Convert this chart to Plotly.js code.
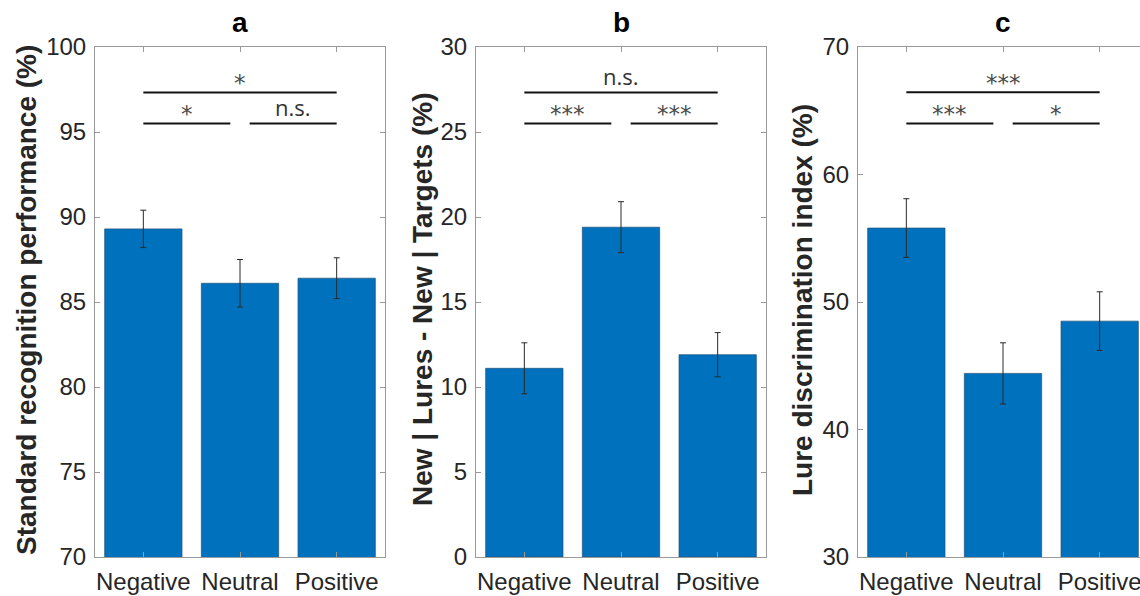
<!DOCTYPE html>
<html>
<head>
<meta charset="utf-8">
<script src="https://cdn.plot.ly/plotly-3.0.1.min.js"></script>
<style>
html,body{margin:0;padding:0;overflow:hidden;background:#fff;width:1140px;height:596px;}
#chart{width:1150px;height:596px;}
</style>
</head>
<body>
<div id="chart"></div>
<script>
// ---- data ----
var categories = ['Negative', 'Neutral', 'Positive'];
var catIndex = [0, 1, 2];

var aMean = [89.3, 86.1, 86.4];
var aErr  = [1.1, 1.4, 1.2];
var bMean = [11.1, 19.4, 11.9];
var bErr  = [1.5, 1.5, 1.3];
var cMean = [55.8, 44.4, 48.5];
var cErr  = [2.3, 2.4, 2.3];

var panelTitles = ['a', 'b', 'c'];
var yTitles = ['Standard recognition performance (%)', 'New | Lures - New | Targets (%)', 'Lure discrimination index (%)'];
var yRanges = [[70, 100], [0, 30], [30, 70]];
var yDticks = [5, 5, 10];

// significance brackets: upper, lower-left, lower-right
var sigX0 = [0, 0, 1.1];
var sigX1 = [2, 0.9, 2];
var aSigY = [97.33, 95.5, 95.5];
var bSigY = [27.33, 25.5, 25.5];
var cSigY = [66.45, 64.0, 64.0];
var aSig = ['*', '*', 'n.s.'];
var bSig = ['n.s.', '***', '***'];
var cSig = ['***', '***', '*'];

// ---- layout geometry (px in a 1150 x 596 canvas) ----
var W = 1150, H = 596;
var panelLeft = [95, 476, 858];
var panelWidth = 290;
var plotTop = 47, plotBottom = 557;
var yTitleX = [26, 422, 802];

var means = [aMean, bMean, cMean];
var errs = [aErr, bErr, cErr];
var sigYs = [aSigY, bSigY, cSigY];
var sigLabels = [aSig, bSig, cSig];

var barColor = '#0072BD';
var spine = '#9a9a9a';
var textColor = '#262626';
var font = 'Liberation Sans, Arial, sans-serif';

var traces = [];
var annotations = [];
var layout = {
  width: W, height: H,
  margin: {l: 0, r: 0, t: 0, b: 0},
  paper_bgcolor: '#fff', plot_bgcolor: '#fff',
  showlegend: false,
  annotations: annotations
};

for (var p = 0; p < 3; p++) {
  var sx = p === 0 ? '' : String(p + 1);
  var xa = 'x' + sx, ya = 'y' + sx;
  traces.push({
    type: 'bar', x: catIndex, y: means[p], xaxis: xa, yaxis: ya,
    width: 0.8,
    marker: {color: barColor, line: {color: '#23517a', width: 0.7}},
    error_y: {type: 'data', array: errs[p], visible: true, color: '#2a2a2a', thickness: 1, width: 3},
    hoverinfo: 'y'
  });
  for (var k = 0; k < 3; k++) {
    traces.push({
      type: 'scatter', mode: 'lines', xaxis: xa, yaxis: ya,
      x: [sigX0[k], sigX1[k]], y: [sigYs[p][k], sigYs[p][k]],
      line: {color: '#111', width: 2}, hoverinfo: 'skip'
    });
    var lab = sigLabels[p][k];
    var isStar = lab.indexOf('*') === 0;
    annotations.push({
      xref: xa, yref: ya,
      x: (sigX0[k] + sigX1[k]) / 2, y: sigYs[p][k],
      text: lab, showarrow: false,
      yanchor: 'bottom', xanchor: 'center',
      yshift: isStar ? -6 : -1,
      font: isStar ? {family: 'DejaVu Sans, sans-serif', size: 23, color: '#4a4a4a'}
                   : {family: 'Open Sans, sans-serif', size: 22, color: '#333'}
    });
  }
  var x0 = panelLeft[p] / W, x1 = (panelLeft[p] + panelWidth) / W;
  layout['xaxis' + sx] = {
    domain: [x0, x1], anchor: ya,
    range: [-0.5, 2.5], tickvals: catIndex, ticktext: categories,
    showline: true, linecolor: spine, linewidth: 1, mirror: 'ticks',
    ticks: 'inside', ticklen: 5, tickcolor: spine, tickwidth: 1,
    showgrid: false, zeroline: false, fixedrange: true,
    tickfont: {family: font, size: 24, color: textColor},
    ticklabelstandoff: 3
  };
  layout['yaxis' + sx] = {
    domain: [1 - plotBottom / H, 1 - plotTop / H], anchor: xa,
    range: yRanges[p], dtick: yDticks[p], tick0: 0,
    showline: true, linecolor: spine, linewidth: 1, mirror: 'ticks',
    ticks: 'inside', ticklen: 5, tickcolor: spine, tickwidth: 1,
    showgrid: false, zeroline: false, fixedrange: true,
    tickfont: {family: font, size: 24, color: textColor},
    ticklabelstandoff: 3
  };
  annotations.push({
    xref: 'paper', yref: 'paper',
    x: (panelLeft[p] + panelWidth / 2) / W, y: 1 - 40 / H,
    xanchor: 'center', yanchor: 'bottom',
    text: '<b>' + panelTitles[p] + '</b>', showarrow: false,
    font: {family: font, size: 28, color: '#000'}
  });
  annotations.push({
    xref: 'paper', yref: 'paper',
    x: yTitleX[p] / W, y: 1 - 300 / H,
    xanchor: 'center', yanchor: 'middle', textangle: -90,
    text: '<b>' + yTitles[p] + '</b>', showarrow: false,
    font: {family: font, size: 28, color: textColor}
  });
}

Plotly.newPlot('chart', traces, layout, {staticPlot: true, displayModeBar: false});
</script>
</body>
</html>
